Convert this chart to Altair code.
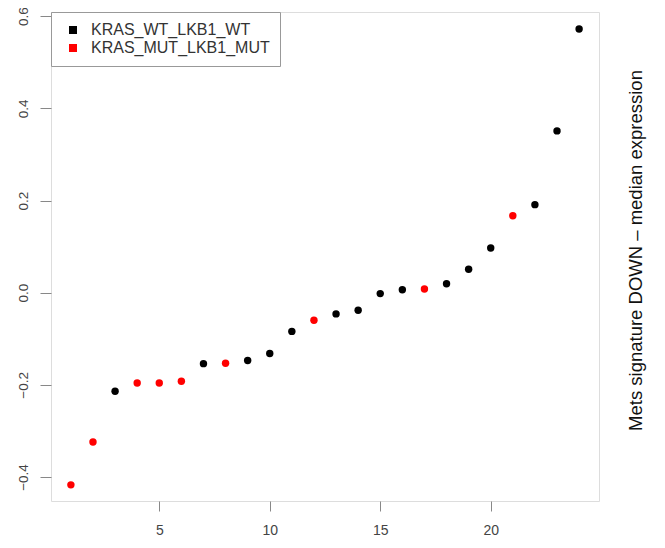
import altair as alt
import pandas as pd

index = list(range(1, 25))
values = [-0.417, -0.324, -0.214, -0.196, -0.196, -0.192, -0.154, -0.153,
          -0.147, -0.132, -0.084, -0.060, -0.046, -0.038, -0.002, 0.0065,
          0.008, 0.0195, 0.051, 0.097, 0.167, 0.191, 0.351, 0.572]
groups = ["MUT", "MUT", "WT", "MUT", "MUT", "MUT", "WT", "MUT",
          "WT", "WT", "WT", "MUT", "WT", "WT", "WT", "WT",
          "MUT", "WT", "WT", "WT", "MUT", "WT", "WT", "WT"]
group_labels = {"WT": "KRAS_WT_LKB1_WT", "MUT": "KRAS_MUT_LKB1_MUT"}
legend_order = ["KRAS_WT_LKB1_WT", "KRAS_MUT_LKB1_MUT"]
legend_colors = ["#000000", "#ff0000"]
x_ticks = [5, 10, 15, 20]
y_ticks = [-0.4, -0.2, 0.0, 0.2, 0.4, 0.6]
y_title = "Mets signature DOWN \u2013 median expression"

df = pd.DataFrame({
    "idx": index,
    "val": values,
    "group": [group_labels[g] for g in groups],
})

FONT = "Liberation Sans"
W, H = 548, 489

points = alt.Chart(df).mark_circle(size=55, opacity=1).encode(
    x=alt.X("idx:Q",
            scale=alt.Scale(domain=[0.1, 24.9], nice=False, zero=False),
            axis=alt.Axis(values=x_ticks, title=None, grid=False, domain=False,
                          tickSize=10, tickColor="#888888", labelColor="#444444",
                          labelFont=FONT, labelFontSize=14, labelPadding=12)),
    y=alt.Y("val:Q",
            scale=alt.Scale(domain=[-0.452, 0.609], nice=False, zero=False),
            axis=alt.Axis(values=y_ticks, title=None, grid=False, domain=False,
                          format=".1f", labelAngle=270, labelAlign="center",
                          labelBaseline="bottom",
                          tickSize=11, tickColor="#888888", labelColor="#444444",
                          labelFont=FONT, labelFontSize=13.5, labelPadding=10)),
    color=alt.Color("group:N",
                    scale=alt.Scale(domain=legend_order, range=legend_colors),
                    legend=alt.Legend(title=None, orient="none", legendX=0, legendY=0,
                                      symbolType="square", symbolSize=64,
                                      symbolStrokeWidth=0,
                                      labelFont=FONT, labelFontSize=16,
                                      labelColor="#333333", labelLimit=400,
                                      strokeColor="#999999", fillColor="white",
                                      padding=10, rowPadding=2, labelOffset=10,
                                      symbolOffset=4)),
)

title_df = pd.DataFrame({"t": [y_title]})
title_text = alt.Chart(title_df).mark_text(
    angle=270, align="center", baseline="middle", font=FONT, fontSize=18.5,
    color="#111111"
).encode(
    text="t:N",
    x=alt.value(W + 37),
    y=alt.value(H / 2 - 6),
)

chart = alt.layer(points, title_text).properties(
    width=W, height=H,
    autosize=alt.AutoSizeParams(type="none"),
    padding={"left": 43, "top": 4, "right": 58, "bottom": 40},
).configure_view(
    stroke="#aaaaaa", strokeWidth=1.5
).configure(background="white")

chart.save("out.html", embed_options={"renderer": "svg", "actions": False})
